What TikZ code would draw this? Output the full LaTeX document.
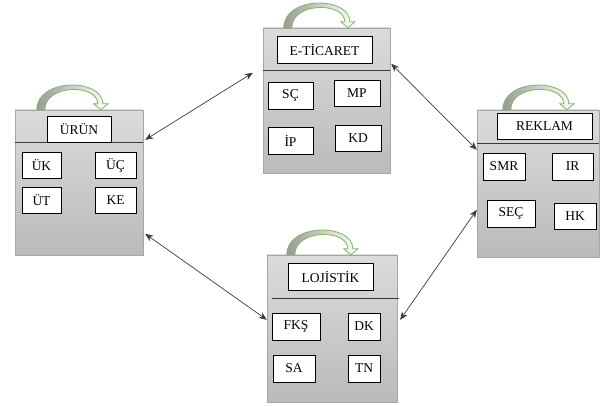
\documentclass[tikz,border=0pt]{standalone}
\usepackage{fontspec}
\setmainfont{Liberation Serif}
\usetikzlibrary{calc,arrows.meta}

\definecolor{yesil}{HTML}{7DB95C}
\definecolor{koyu}{HTML}{3A3A3A}

\tikzset{
  panel/.style={draw=black!35, top color=black!14, bottom color=black!27, inner sep=0},
  kutu/.style={draw, fill=white, line width=0.8pt, inner sep=0, minimum height=26pt, font=\fontsize{13.5}{16}\selectfont},
  bolme/.style={draw=koyu, line width=0.9pt},
  ok/.style={draw=koyu, line width=0.7pt, {Stealth[length=8pt,width=6.5pt]}-{Stealth[length=8pt,width=6.5pt]}},
  donusok/.style={draw=yesil, line width=0.8pt, left color=black!40, right color=white}
}
% curved arrow over each panel
\newcommand{\donus}[1]{\path[donusok, shift={(#1)}](0,0).. controls (0,-32) and (66,-32) ..(66,-6)--(71,-6)--(64,0)--(57,-6)--(61,-6).. controls (61,-26) and (8,-26) ..(8,0)--cycle;}

\begin{document}
\begin{tikzpicture}[x=1pt, y=-1pt]
        \useasboundingbox (0,0) rectangle (611,406);
        % panels
        \node[panel, minimum width=128pt, minimum height=145pt](urun)at(79,182.5){};
        \node[panel, minimum width=127pt, minimum height=145pt](eticaret)at(326.5,100.5){};
        \node[panel, minimum width=122pt, minimum height=147pt](reklam)at(538,183.5){};
        \node[panel, minimum width=130pt, minimum height=147pt](lojistik)at(332,328.5){};
        % dividers
        \path[bolme]($(urun.north west)+(0,33)$)to($(urun.north east)+(0,33)$);
        \path[bolme]($(eticaret.north west)+(0,43)$)to($(eticaret.north east)+(0,43)$);
        \path[bolme]($(reklam.north west)+(0,34)$)to($(reklam.north east)+(0,34)$);
        \path[bolme]($(lojistik.north west)+(5,44)$)to($(lojistik.north east)+(2,44)$);
        % curved arrows
        \donus{$(urun.north west)+(22,0)$}
        \donus{$(eticaret.north west)+(21,0)$}
        \donus{$(reklam.north west)+(26,0)$}
        \donus{$(lojistik.north west)+(20,0)$}
        % ÜRÜN
        \node[kutu, minimum width=64pt](urunB)at(79,129){ÜRÜN};
        \node[kutu, minimum width=39pt](uk)at(41.5,165){ÜK};
        \node[kutu, minimum width=41pt](uc)at(115.5,165){ÜÇ};
        \node[kutu, minimum width=39pt](ut)at(41.5,200.5){ÜT};
        \node[kutu, minimum width=41pt](ke)at(115.5,200.5){KE};
        % E-TİCARET
        \node[kutu, minimum width=95pt, minimum height=27pt](eticaretB)at(324.5,49.5){E-TİCARET};
        \node[kutu, minimum width=45pt, minimum height=27pt](sc)at(290.5,95.5){SÇ};
        \node[kutu, minimum width=46pt](mp)at(357,93){MP};
        \node[kutu, minimum width=45pt, minimum height=27pt](ip)at(290.5,140.5){İP};
        \node[kutu, minimum width=46pt](kd)at(358,138){KD};
        % REKLAM
        \node[kutu, minimum width=95pt](reklamB)at(544.5,126){REKLAM};
        \node[kutu, minimum width=42pt, minimum height=27pt](smr)at(504,166.5){SMR};
        \node[kutu, minimum width=41pt, minimum height=27pt](ir)at(572.5,166.5){IR};
        \node[kutu, minimum width=48pt, minimum height=27pt](sec)at(511,213.5){SEÇ};
        \node[kutu, minimum width=42pt](hk)at(575,216){HK};
        % LOJİSTİK
        \node[kutu, minimum width=85pt, minimum height=27pt](lojistikB)at(330.5,276.5){LOJİSTİK};
        \node[kutu, minimum width=48pt, minimum height=27pt](fks)at(296,326.5){FKŞ};
        \node[kutu, minimum width=32pt, minimum height=27pt](dk)at(364,326.5){DK};
        \node[kutu, minimum width=42pt, minimum height=27pt](sa)at(294,368.5){SA};
        \node[kutu, minimum width=32pt, minimum height=27pt](tn)at(364,368.5){TN};
        % links
        \path[ok]($(urun.north east)+(2,30)$)to($(eticaret.north west)+(-10,45)$);
        \path[ok]($(eticaret.north east)+(1,36)$)to($(reklam.north west)+(0,40)$);
        \path[ok]($(urun.north east)+(2,124)$)to($(lojistik.north west)+(0,65)$);
        \path[ok]($(reklam.north west)+(0,100)$)to($(lojistik.north east)+(3,65)$);
\end{tikzpicture}
\end{document}
